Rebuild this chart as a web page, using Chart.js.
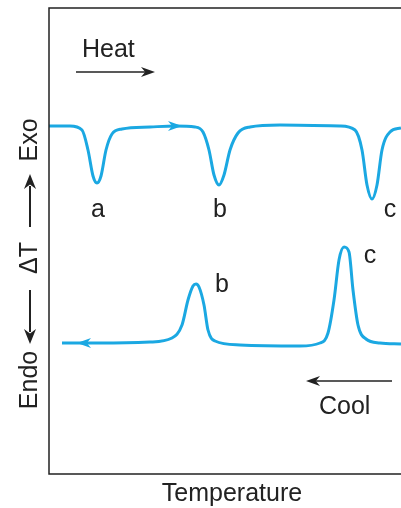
<!DOCTYPE html>
<html><head><meta charset="utf-8">
<script src="https://cdn.jsdelivr.net/npm/chart.js@4"></script>
<style>body{margin:0;background:#fff}#wrap{width:401px;height:508px}</style>
</head><body><div id="wrap"><canvas id="c"></canvas></div>
<script>
// schematic DTA curves, arbitrary units (temperature, ΔT)
const heatT = [0,21,33,39,44,48,52,57,63,73,101,126,146,154,160,165,170,175,181,189,201,231,291,306,313,318,323,328,333,341,352];
const heatDT = [348,348,344,324,298,291,298,324,340,345,347,348,347,342,324,299,289,299,324,341,347,349,348,344,324,289,275,289,324,342,346];
const coolT = [13,51,101,123,133,139,144,147,150,155,159,166,191,251,271,279,285,290,295,300,304,309,317,331,352];
const coolDT = [131,131,132,136,149,174,188,190,187,169,144,133,129,128,131,141,174,214,227,222,184,149,135,131,130];
const peakLabels = [
  {t:'a', x:49, y:264}, {t:'b', x:171, y:264}, {t:'c', x:341, y:264},
  {t:'b', x:173, y:189}, {t:'c', x:321, y:218}
];
const blue = '#1ba8e2';

function arrowHead(ctx, x, y, dir, len, w, col) {
  ctx.save(); ctx.fillStyle = col; ctx.beginPath();
  ctx.moveTo(x, y); ctx.lineTo(x - dir*len, y - w); ctx.lineTo(x - dir*len*0.7, y); ctx.lineTo(x - dir*len, y + w);
  ctx.closePath(); ctx.fill(); ctx.restore();
}

const deco = {
  id: 'deco',
  afterDraw(chart) {
    const ctx = chart.ctx, xs = chart.scales.x, ys = chart.scales.y, a = chart.chartArea;
    ctx.save();
    // frame
    ctx.strokeStyle = '#222'; ctx.lineWidth = 1.5;
    ctx.beginPath(); ctx.moveTo(a.right + 2, a.top); ctx.lineTo(a.left, a.top); ctx.lineTo(a.left, a.bottom); ctx.lineTo(a.right + 2, a.bottom); ctx.stroke();
    // curve arrows
    arrowHead(ctx, xs.getPixelForValue(133), ys.getPixelForValue(348), 1, 14, 5, blue);
    arrowHead(ctx, xs.getPixelForValue(28), ys.getPixelForValue(131), -1, 14, 5, blue);
    ctx.fillStyle = '#222'; ctx.font = '25px "Liberation Sans", Arial, sans-serif';
    ctx.textAlign = 'center'; ctx.textBaseline = 'middle';
    peakLabels.forEach(p => ctx.fillText(p.t, xs.getPixelForValue(p.x), ys.getPixelForValue(p.y)));
    // Heat / Cool
    ctx.textAlign = 'left';
    ctx.fillText('Heat', 82, 50);
    ctx.fillText('Cool', 319, 407);
    ctx.strokeStyle = '#222'; ctx.lineWidth = 1.5;
    ctx.beginPath(); ctx.moveTo(76, 72); ctx.lineTo(145, 72); ctx.stroke();
    arrowHead(ctx, 155, 72, 1, 14, 5, '#222');
    ctx.beginPath(); ctx.moveTo(392, 381); ctx.lineTo(316, 381); ctx.stroke();
    arrowHead(ctx, 306, 381, -1, 14, 5, '#222');
    // x title
    ctx.textAlign = 'center';
    ctx.fillText('Temperature', 232, 494);
    // y title: Endo <- ΔT -> Exo (rotated)
    ctx.translate(30, 0); ctx.rotate(-Math.PI/2);
    ctx.fillText('Exo', -140, 0);
    ctx.fillText('ΔT', -258, 0);
    ctx.fillText('Endo', -380, 0);
    ctx.lineWidth = 2;
    ctx.beginPath(); ctx.moveTo(-227, 0); ctx.lineTo(-186, 0); ctx.stroke();
    arrowHead(ctx, -174, 0, 1, 15, 6, '#222');
    ctx.beginPath(); ctx.moveTo(-290, 0); ctx.lineTo(-332, 0); ctx.stroke();
    arrowHead(ctx, -344, 0, -1, 15, 6, '#222');
    ctx.restore();
  }
};

new Chart(document.getElementById('c'), {
  type: 'line',
  data: {
    datasets: [
      { data: heatT.map((t, i) => ({x: t, y: heatDT[i]})) },
      { data: coolT.map((t, i) => ({x: t, y: coolDT[i]})) }
    ]
  },
  options: {
    responsive: true, maintainAspectRatio: false, animation: false,
    layout: { padding: { left: 49, top: 8, right: 0, bottom: 34 } },
    elements: {
      line: { borderColor: blue, borderWidth: 3, cubicInterpolationMode: 'monotone', fill: false },
      point: { radius: 0 }
    },
    plugins: { legend: { display: false }, tooltip: { enabled: false } },
    scales: {
      x: { type: 'linear', min: 0, max: 352, display: false },
      y: { min: 0, max: 466, display: false }
    }
  },
  plugins: [deco]
});
</script></body></html>
